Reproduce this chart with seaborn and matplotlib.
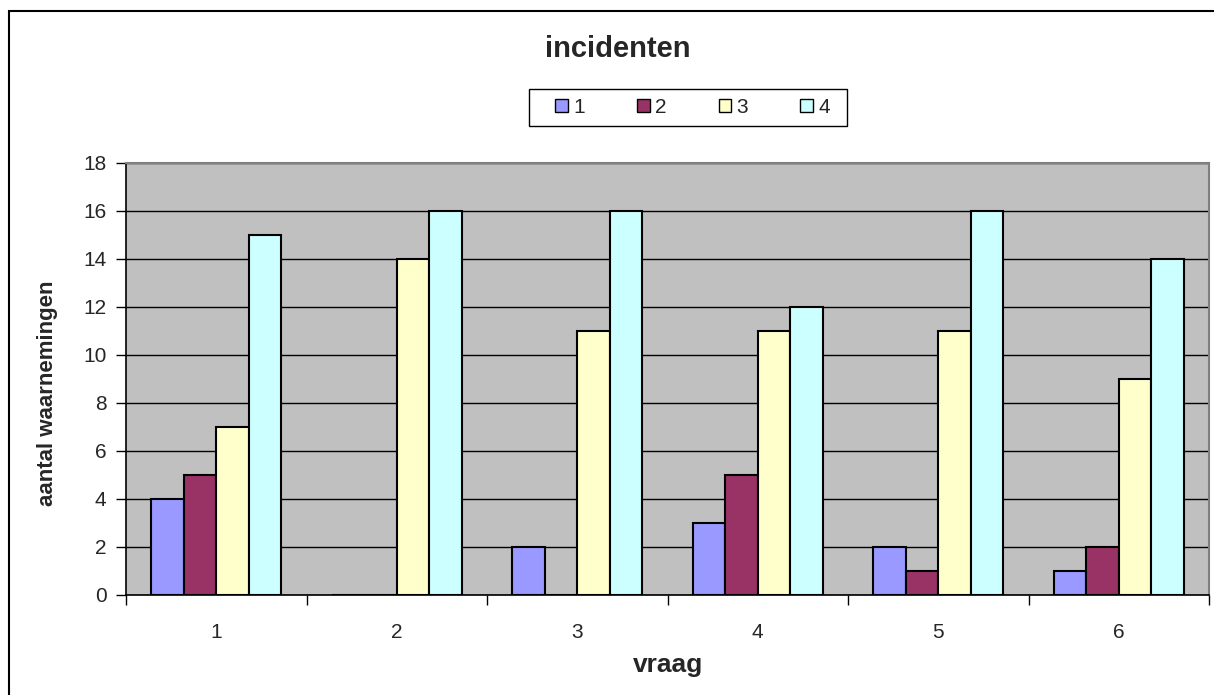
import matplotlib

matplotlib.use("Agg")

import matplotlib.pyplot as plt
import pandas as pd
import seaborn as sns
from matplotlib.patches import Patch, Rectangle
from matplotlib.ticker import FixedLocator

# ------------------------------------------------------------------
# DATA
# ------------------------------------------------------------------

vraag = ["1", "2", "3", "4", "5", "6"]
series = ["1", "2", "3", "4"]

serie_1 = [4, 0, 2, 3, 2, 1]
serie_2 = [5, 0, 0, 5, 1, 2]
serie_3 = [7, 14, 11, 11, 11, 9]
serie_4 = [15, 16, 16, 12, 16, 14]

y_ticks = [0, 2, 4, 6, 8, 10, 12, 14, 16, 18]

colors = ["#9999FF", "#993366", "#FFFFCC", "#CCFFFF"]

df = pd.DataFrame(
    {
        "vraag": vraag * 4,
        "serie": [s for s in series for _ in vraag],
        "aantal": serie_1 + serie_2 + serie_3 + serie_4,
    }
)

# ------------------------------------------------------------------
# PLOT
# ------------------------------------------------------------------

sns.set_theme(style="white")
plt.rcParams["font.family"] = ["Liberation Sans", "DejaVu Sans"]

fig = plt.figure(figsize=(12.14, 6.95), dpi=100)
fig.patch.set_facecolor("white")

ax = fig.add_axes([126 / 1214, 1 - 595 / 695, 1083 / 1214, 432 / 695])
ax.set_facecolor("#C0C0C0")

sns.barplot(
    data=df,
    x="vraag",
    y="aantal",
    hue="serie",
    hue_order=series,
    order=vraag,
    palette=colors,
    saturation=1,
    width=0.72,
    edgecolor="black",
    linewidth=1.5,
    legend=False,
    ax=ax,
    zorder=3,
)

ax.set_xlim(-0.5, 5.5)
ax.set_ylim(0, 18)
ax.set_yticks(y_ticks)
ax.yaxis.grid(True, color="black", linewidth=1)
ax.set_axisbelow(True)

# category separators as minor ticks, labels at the centers
ax.xaxis.set_minor_locator(FixedLocator([i - 0.5 for i in range(len(vraag) + 1)]))
ax.tick_params(axis="x", which="major", length=0, pad=20, labelsize=15)
ax.tick_params(axis="x", which="minor", length=7, width=1, color="black", direction="out", bottom=True)
ax.tick_params(axis="y", length=7, width=1, color="black", direction="out", left=True, pad=7, labelsize=15)

ax.set_xlabel("")
ax.set_ylabel("")

for side in ["left", "bottom"]:
    ax.spines[side].set_color("black")
    ax.spines[side].set_linewidth(1.2)
for side in ["top", "right"]:
    ax.spines[side].set_color("#808080")
    ax.spines[side].set_linewidth(1.5)

# titles and labels
fig.text(618 / 1214, 1 - 57 / 695, "incidenten", ha="center", va="baseline",
         fontsize=21, fontweight="bold")
fig.text(668 / 1214, 1 - 672 / 695, "vraag", ha="center", va="baseline",
         fontsize=19, fontweight="bold")
fig.text(48 / 1214, 1 - 393 / 695, "aantal waarnemingen", ha="center", va="center",
         rotation=90, fontsize=16, fontweight="bold")

# legend entries spread inside a separately drawn box
handles = [Patch(facecolor=c, edgecolor="black", linewidth=1) for c in colors]
fig.legend(
    handles,
    series,
    loc="center",
    bbox_to_anchor=(547 / 1214, 1 - 126 / 695, 291 / 1214, 37 / 695),
    mode="expand",
    ncol=4,
    frameon=False,
    fontsize=15,
    handlelength=0.6,
    handleheight=0.6,
    handletextpad=0.25,
    columnspacing=2.3,
    borderpad=0.4,
    borderaxespad=0,
)
fig.add_artist(
    Rectangle(
        (529 / 1214, 1 - 126 / 695),
        318 / 1214,
        37 / 695,
        transform=fig.transFigure,
        fill=False,
        edgecolor="black",
        linewidth=1,
    )
)

# outer chart border
fig.add_artist(
    Rectangle(
        (9 / 1214, -0.05),
        1.2,
        1.05 - 11 / 695,
        transform=fig.transFigure,
        fill=False,
        edgecolor="black",
        linewidth=1.5,
    )
)

fig.savefig("out.png", dpi=100)
plt.close(fig)
